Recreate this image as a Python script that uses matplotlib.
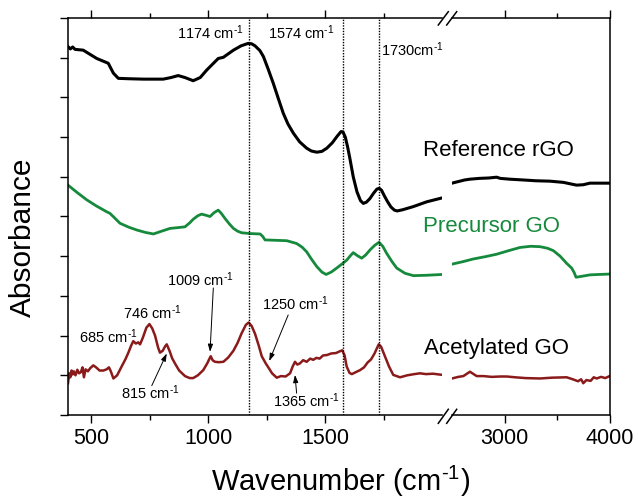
import matplotlib
matplotlib.use('Agg')
import matplotlib.pyplot as plt
from matplotlib.lines import Line2D

plt.rcParams['font.family'] = ['Liberation Sans', 'DejaVu Sans']
plt.rcParams['mathtext.fontset'] = 'custom'
plt.rcParams['mathtext.rm'] = 'Liberation Sans'
plt.rcParams['mathtext.default'] = 'regular'

# ---- data ----
ref_lo_wn = [400, 410, 420, 430, 465, 523, 572, 594, 615, 660, 722, 807, 840, 871, 900,
             935, 965, 993, 1042, 1064, 1107, 1140, 1170, 1185, 1199, 1220, 1235, 1255,
             1277, 1300, 1320, 1340, 1363, 1390, 1420, 1440, 1463, 1485, 1506, 1530,
             1550, 1567, 1575, 1585, 1595, 1605, 1619, 1635, 1650, 1662, 1675, 1690,
             1705, 1720, 1730, 1740, 1752, 1765, 1780, 1795, 1807, 1830, 1876, 1933, 2000]
ref_lo_ab = [9.28, 9.22, 9.27, 9.21, 9.19, 8.98, 8.86, 8.61, 8.48, 8.47, 8.46, 8.46, 8.50,
             8.55, 8.50, 8.42, 8.50, 8.69, 8.98, 9.01, 9.19, 9.30, 9.36, 9.35, 9.30, 9.18,
             9.03, 8.72, 8.36, 7.95, 7.60, 7.33, 7.10, 6.88, 6.72, 6.65, 6.62, 6.64, 6.72,
             6.86, 7.02, 7.14, 7.13, 7.00, 6.75, 6.45, 6.00, 5.62, 5.40, 5.33, 5.36, 5.45,
             5.58, 5.69, 5.71, 5.66, 5.52, 5.38, 5.24, 5.16, 5.14, 5.17, 5.25, 5.37, 5.47]
ref_hi_wn = [2500, 2560, 2620, 2671, 2760, 2850, 2925, 2960, 3050, 3179, 3300, 3433, 3560,
             3650, 3687, 3750, 3814, 3900, 4000]
ref_hi_ab = [5.84, 5.88, 5.92, 5.94, 5.96, 5.97, 5.99, 5.96, 5.94, 5.92, 5.90, 5.89, 5.86,
             5.81, 5.79, 5.80, 5.84, 5.84, 5.84]

go_lo_wn = [400, 440, 480, 520, 565, 579, 600, 622, 660, 694, 730, 765, 800, 836, 870, 900,
            920, 935, 955, 971, 990, 1007, 1025, 1042, 1055, 1071, 1090, 1107, 1125, 1142,
            1180, 1221, 1232, 1242, 1290, 1335, 1377, 1400, 1420, 1440, 1463, 1485, 1503,
            1525, 1548, 1570, 1591, 1605, 1619, 1635, 1655, 1672, 1691, 1710, 1729, 1745,
            1762, 1785, 1805, 1840, 1876, 1933, 2000]
go_lo_ab = [5.79, 5.60, 5.42, 5.27, 5.12, 5.08, 4.96, 4.83, 4.73, 4.66, 4.60, 4.56, 4.63,
            4.70, 4.72, 4.74, 4.84, 4.93, 5.02, 5.06, 5.03, 5.00, 5.10, 5.16, 5.08, 4.95,
            4.81, 4.70, 4.63, 4.59, 4.57, 4.56, 4.50, 4.41, 4.40, 4.39, 4.32, 4.23, 4.11,
            3.93, 3.74, 3.60, 3.54, 3.60, 3.70, 3.80, 3.90, 4.00, 4.09, 4.02, 3.95, 4.03,
            4.16, 4.27, 4.35, 4.25, 4.07, 3.86, 3.70, 3.57, 3.51, 3.52, 3.54]
go_hi_wn = [2500, 2600, 2703, 2820, 2925, 3040, 3148, 3250, 3338, 3410, 3465, 3530, 3592,
            3640, 3665, 3681, 3750, 3814, 3900, 4000]
go_hi_ab = [3.80, 3.86, 3.93, 3.99, 4.05, 4.14, 4.22, 4.25, 4.24, 4.20, 4.14, 4.00, 3.82,
            3.70, 3.58, 3.47, 3.50, 3.53, 3.54, 3.55]

ac_lo_wn = [400, 405, 410, 415, 420, 425, 432, 440, 447, 455, 462, 468, 475, 485, 495, 508,
            520, 535, 551, 565, 575, 583, 594, 610, 629, 645, 658, 670, 679, 690, 700, 708,
            720, 735, 748, 760, 772, 785, 793, 805, 815, 822, 835, 845, 857, 875, 900, 920,
            935, 955, 978, 995, 1003, 1010, 1018, 1028, 1045, 1064, 1085, 1107, 1125, 1142,
            1160, 1172, 1185, 1199, 1215, 1228, 1245, 1256, 1272, 1292, 1310, 1330, 1349,
            1360, 1370, 1380, 1391, 1405, 1420, 1435, 1448, 1462, 1475, 1490, 1506, 1525,
            1545, 1560, 1572, 1582, 1591, 1603, 1613, 1630, 1648, 1665, 1680, 1695, 1710,
            1720, 1728, 1738, 1755, 1772, 1790, 1819, 1850, 1880, 1904, 1930, 1960, 2000]
ac_lo_ab = [0.80, 1.05, 0.95, 1.12, 1.02, 1.10, 1.00, 1.14, 1.05, 1.08, 1.20, 0.95, 1.15,
            1.10, 1.18, 1.25, 1.20, 1.12, 1.12, 1.15, 1.20, 1.10, 0.92, 1.00, 1.22, 1.40,
            1.57, 1.75, 1.86, 1.80, 1.83, 1.78, 1.95, 2.20, 2.29, 2.18, 2.00, 1.70, 1.57,
            1.62, 1.73, 1.78, 1.60, 1.43, 1.30, 1.12, 0.98, 0.93, 0.93, 1.00, 1.13, 1.30,
            1.40, 1.48, 1.38, 1.34, 1.33, 1.34, 1.45, 1.62, 1.82, 2.06, 2.27, 2.33, 2.24,
            2.05, 1.75, 1.48, 1.30, 1.20, 1.05, 0.94, 0.98, 0.97, 1.05, 1.22, 1.34, 1.27,
            1.30, 1.38, 1.34, 1.42, 1.39, 1.44, 1.42, 1.50, 1.51, 1.55, 1.56, 1.60, 1.63,
            1.50, 1.22, 1.06, 1.03, 1.08, 1.13, 1.20, 1.32, 1.40, 1.55, 1.68, 1.78, 1.72,
            1.47, 1.22, 1.01, 0.95, 1.00, 1.03, 1.05, 1.03, 1.04, 1.01]
ac_hi_wn = [2500, 2560, 2608, 2671, 2735, 2800, 2880, 2960, 3021, 3100, 3200, 3338, 3450,
            3592, 3650, 3700, 3730, 3750, 3780, 3820, 3850, 3878, 3920, 3960, 4000]
ac_hi_ab = [0.92, 0.96, 0.98, 1.09, 0.98, 0.98, 0.96, 0.97, 0.97, 0.95, 0.93, 0.92, 0.94,
            0.95, 0.90, 0.85, 0.90, 0.80, 0.88, 0.86, 0.95, 0.92, 0.96, 0.93, 0.98]

marker_lines = [1174, 1574, 1730]
series_names = ['Reference rGO', 'Precursor GO', 'Acetylated GO']

BLACK = '#000000'
GREEN = '#168a3c'
RED = '#8b1a1a'
CM = 'cm$^{\u2010' + '1}$'   # superscript with a plain hyphen, like the original

W, H = 638, 498
fig = plt.figure(figsize=(W / 100, H / 100), dpi=100)


def fx(px):
    return px / W


def fy(py):
    return 1 - py / H


top, bot = 18, 415
ax1 = fig.add_axes([fx(68), fy(bot), fx(442.4 - 68), (bot - top) / H])
ax2 = fig.add_axes([fx(452), fy(bot), fx(609.5 - 452), (bot - top) / H], sharey=ax1)

for ax in (ax1, ax2):
    ax.set_ylim(0, 10)
    ax.patch.set_visible(False)
    for s in ax.spines.values():
        s.set_linewidth(1.1)
    ax.tick_params(which='both', direction='out', width=1.0, labelsize=15.5,
                   top=True, pad=4)
    ax.tick_params(which='major', length=5.5)
    ax.tick_params(which='minor', length=3.3)

ax1.set_xlim(400, 2000)
ax2.set_xlim(2500, 4000)
ax1.spines['right'].set_visible(False)
ax2.spines['left'].set_visible(False)

ax1.set_xticks([500, 1000, 1500])
ax1.set_xticks([750, 1250, 1750], minor=True)
ax2.set_xticks([3000, 4000])
ax2.set_xticks([3500], minor=True)
ax1.set_yticks(range(0, 11))
ax1.tick_params(axis='y', which='major', length=5.5, labelleft=False)
ax2.tick_params(axis='y', which='both', left=False, right=False, labelleft=False)

# curves
ax1.plot(ref_lo_wn, ref_lo_ab, color=BLACK, lw=2.2, solid_joinstyle='round')
ax2.plot(ref_hi_wn, ref_hi_ab, color=BLACK, lw=2.2, solid_joinstyle='round')
ax1.plot(go_lo_wn, go_lo_ab, color=GREEN, lw=2.0, solid_joinstyle='round')
ax2.plot(go_hi_wn, go_hi_ab, color=GREEN, lw=2.0, solid_joinstyle='round')
ax1.plot(ac_lo_wn, ac_lo_ab, color=RED, lw=1.8, solid_joinstyle='round')
ax2.plot(ac_hi_wn, ac_hi_ab, color=RED, lw=1.8, solid_joinstyle='round')

for wn in marker_lines:
    ax1.axvline(wn, color='black', lw=1.0, ls=(0, (1, 1)))

fs = 10.5
ax1.text(1152, 9.62, '1174 ' + CM, fontsize=fs, ha='right', va='center')
ax1.text(1537, 9.64, '1574 ' + CM, fontsize=fs, ha='right', va='center')
ax1.text(1736, 9.19, '1730' + CM, fontsize=fs, ha='left', va='center')

ax1.text(571, 1.96, '685 ' + CM, fontsize=fs, ha='center', va='center')
ax1.text(759, 2.57, '746 ' + CM, fontsize=fs, ha='center', va='center')
ax1.text(750, 0.55, '815 ' + CM, fontsize=fs, ha='center', va='center')
ax1.text(964, 3.40, '1009 ' + CM, fontsize=fs, ha='center', va='center')
ax1.text(1370, 2.80, '1250 ' + CM, fontsize=fs, ha='center', va='center')
ax1.text(1417, 0.36, '1365 ' + CM, fontsize=fs, ha='center', va='center')

arrow = dict(arrowstyle='-|>,head_length=0.45,head_width=0.15', color='black',
             lw=0.7, shrinkA=0, shrinkB=0)
ax1.annotate('', xy=(822, 1.55), xytext=(758, 0.74), arrowprops=arrow)
ax1.annotate('', xy=(1007, 1.59), xytext=(1021, 3.20), arrowprops=arrow)
ax1.annotate('', xy=(1260, 1.36), xytext=(1341, 2.52), arrowprops=arrow)
ax1.annotate('', xy=(1370, 1.01), xytext=(1377, 0.55), arrowprops=arrow)

# series labels (span the axis break, so place them on the figure)
fig.text(fx(423), fy(150), series_names[0], fontsize=16, color=BLACK, ha='left', va='center')
fig.text(fx(423), fy(226.7), series_names[1], fontsize=16, color=GREEN, ha='left', va='center')
fig.text(fx(424), fy(348), series_names[2], fontsize=16, color=BLACK, ha='left', va='center')

# axis labels
fig.text(fx(22.5), fy(237.5), 'Absorbance', fontsize=21.5, rotation=90,
         ha='center', va='center')
fig.text(fx(341), fy(481), 'Wavenumber (' + CM + ')', fontsize=21,
         ha='center', va='center')

# break marks
for ytop, ybot in ((11.7, 25.0), (409.3, 423.3)):
    for x0 in (438.3, 446.7):
        fig.add_artist(Line2D([fx(x0), fx(x0 + 10)], [fy(ybot), fy(ytop)],
                              color='black', lw=1.1, transform=fig.transFigure))

fig.savefig('out.png', dpi=100)
